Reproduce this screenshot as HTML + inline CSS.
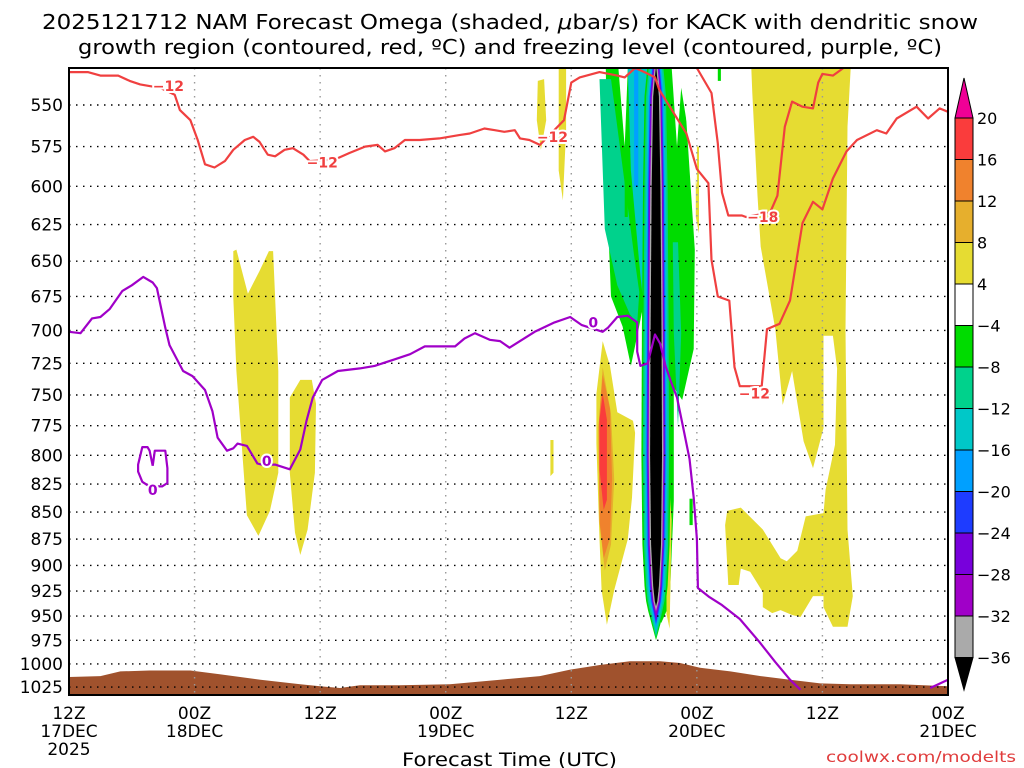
<!DOCTYPE html>
<html><head><meta charset="utf-8"><style>
html,body{margin:0;padding:0;background:#fff;}
svg{display:block;font-family:"DejaVu Sans","Liberation Sans",sans-serif;}
</style></head><body>
<svg id="chart" width="1024" height="768" viewBox="0 0 1024 768">
<text x="42" y="29" font-size="20" textLength="936" lengthAdjust="spacingAndGlyphs">2025121712 NAM Forecast Omega (shaded, <tspan font-style="italic">μ</tspan>bar/s) for KACK with dendritic snow</text>
<text x="78" y="54" font-size="20" textLength="864" lengthAdjust="spacingAndGlyphs">growth region (contoured, red, ºC) and freezing level (contoured, purple, ºC)</text>
<g id="shade"></g>
<g id="grid"></g>
<g id="lines"></g>
<g id="axes"></g>
<g id="cbar"></g>
<text x="402" y="766" font-size="19" textLength="215" lengthAdjust="spacingAndGlyphs">Forecast Time (UTC)</text>
<text x="826" y="762" font-size="15" fill="#e03c3c" textLength="190" lengthAdjust="spacingAndGlyphs">coolwx.com/modelts</text>
</svg>
<script>
const pressureTicks=[550,575,600,625,650,675,700,725,750,775,800,825,850,875,900,925,950,975,1000,1025];
const timeTicks=[0,12,24,36,48,60,72,84];
const timeLabels1=["12Z","00Z","12Z","00Z","12Z","00Z","12Z","00Z"];
const timeLabels2=["17DEC","18DEC","","19DEC","","20DEC","","21DEC"];
const cbarLevels=["20","16","12","8","4","-4","-8","-12","-16","-20","-24","-28","-32","-36"];
const cbarColors=["#fa3c3c","#f0822d","#e6af2d","#e6dc32","#ffffff","#00dc00","#00d28c","#00c8c8","#00a0ff","#1e3cff","#7800dc","#a000c8","#aaaaaa"];
// surface pressure (hours, hPa)
const sfcH=[0,3,4.9,7.7,11.6,14.4,18.3,22.1,24,25.9,27.8,31.6,36.4,41.2,45,47.9,50.8,53.6,56.5,58.4,60.3,63.2,66.1,68.9,71.8,74.7,79.4,84];
const sfcP=[1014,1013,1008,1007,1007,1011,1017,1022,1024,1026,1023,1023,1022,1017,1013,1006,1001,997,997,999,1004,1008,1013,1017,1021,1022,1022,1024];
// yellow (4-8) regions
const yelA_H=[15.7,16,17.1,18.2,19.1,19.5,20,20,19.2,18.1,17,16.5,16,15.7];
const yelA_P=[643,642,673,657,643,643,731,815,849,872,853,791,731,676];
const yelB_H=[21.1,22.1,23.2,23.6,23.5,22.8,22.1,21.6,21.1];
const yelB_P=[752,738,738,757,815,866,890,869,815];
const yelC_H=[44.8,45.4,45.6,45.1,44.7];
const yelC_P=[536,535,559,577,559];
const yelD_H=[46.8,47.5,47.5,47.2,46.8];
const yelD_P=[528,528,565,609,590];
const yelE_H=[46,46.3,46.3,46];
const yelE_P=[787,787,815,818];
const yelF_H=[51,51.7,52.4,53.9,54.1,53.8,53.4,52.1,51.4,50.9,50.7,50.4,50.4];
const yelF_P=[708,727,764,771,781,837,875,924,959,924,875,790,749];
const yelG_H=[57.2,57.6,57.4,57.1,57.1];
const yelG_P=[809,857,963,948,822];
const yelH_H=[59.9,60.2,60.2,59.9];
const yelH_P=[575,575,631,620];
const yelR_H=[65.2,65.3,65.8,66.1,67.5,68.2,69.1,70.2,71.1,72.1,72.1,73,73.4,73.2,72.3,72.1,70.4,69.6,68.6,68,66.3,64.2,62.9,62.7,63,64,64.2,65.1,66.3,66.3,67.2,68,69.1,69.9,71.1,72.1,72.1,73,74.4,74.9,74.4,74.2,74.4,74.7];
const yelR_P=[528,543,606,640,699,758,731,788,811,777,704,704,729,791,830,851,854,886,896,893,866,846,849,862,919,919,903,906,926,941,947,944,949,951,930,930,941,961,961,930,866,699,563,528];
const tanH=[51,51.8,52.1,51.8,51.2,50.7,50.6];
const tanP=[728,765,821,880,905,860,776];
const orgH=[51,51.7,51.9,51.7,51.1,50.7,50.6];
const orgP=[734,761,821,874,893,858,776];
const redH=[51,51.4,51.4,51.1,50.7,50.7];
const redP=[749,770,839,848,812,770];
// negative omega (green/teal) regions
const grnH=[51.3,51.5,51.8,52.9,53.7,54.4,55,55.5,55.3,55.7,56.6,57.4,57.8,57.8,58.6,59.7,59.8,58.8,57.8];
const grnP=[528,621,675,697,727,700,677,714,840,945,957,938,840,744,754,714,642,541,528];
const tealH=[50.7,51.8,53.1,54.0,54.5,54.3,53.6,52.4,51.2];
const tealP=[535,535,598,646,672,695,688,667,628];
const wedgeH=[52.5,53.4,53.3,53.1];
const wedgeP=[528,528,545,575];
const wedge2H=[57.6,60,60,58.5,58.1];
const wedge2P=[528,528,600,540,575];
const teal2H=[57.7,58.2,58.5,58.2,57.8];
const teal2P=[637,637,702,776,702];
const grnInH=[53.1,53.4,53.4,53.1];
const grnInP=[528,528,620,620];
const cyanH=[53.4,55.6,55.6,54.6,53.7];
const cyanP=[528,528,730,660,590];
const blueH=[54.0,54.4,54.4,54.0];
const blueP=[528,528,600,600];
const smallGrnH=[59.3,59.6,59.6,59.3];
const smallGrnP=[838,838,862,862];
const topGrnH=[62,62.3,62.3,62];
const topGrnP=[528,528,536,536];
// central strong-ascent column: profile and shading levels
const colCenter=56.1;
const colP=[528,545,600,700,800,880,920,935,945];
const colHalf=[0.1,0.35,0.5,0.6,0.65,0.55,0.35,0.2,0];
const colPad=[0.75,0.6,0.45,0.35,0.25,0.18,0.1,0.05];
const colBottom=[975,972,968,962,958,955,950,945];
const colColors=["#00dc00","#00d28c","#00c8c8","#00a0ff","#1e3cff","#7800dc","#a000c8","#aaaaaa"];
// red -12 contour
const r12H=[0,1.8,3,4.7,5.8,6.8,7.7,8.7,10.1,10.6,11.6,12.3,13,13.9,14.9,15.7,16.8,17.6,18.2,19,19.7,20.6,21.4,22.4,23,25.4,26.8,28.3,29.5,30.2,31.1,32.1,33.5,35.4,37.3,38.3,39.7,40.7,41.6,42.6,43.1,44,45,47.3,48,48.8,50.7,52.4,53.1,54.1,55,56,56.4,59,60,61.1,61.4,62,63.1,63.6,64.1,66.2,66.7,67.9,68.9,70.1,71.1,72,73,74.3,75.3,77.2,78.1,79.1,81,82.1,83.2,84];
const r12P=[531,531,533,533,536,538,539,540,544,553,559,571,586,588,584,577,571,569,572,580,581,577,576,580,584,583,579,575,574,578,576,571,571,570,568,567,564,565,566,565,570,571,574,559,537,534,531,533,534,528,531,534,541,567,589,598,649,675,678,728,743,743,699,695,678,624,610,615,595,578,571,565,567,558,551,558,552,554];
// red -18 contour
const r18H=[60,61.4,62,62.4,63,64.3,64.7,67,67.7,68.4,69.1,70.1,71.1,71.6,72,73,74];
const r18P=[528,543,573,604,619,619,620,617,606,563,548,551,552,537,532,533,528];
// purple 0C contour
const f0H=[0,1.1,2.2,3,3.9,5.1,6,7.1,8,8.4,9.2,9.6,10.9,11.8,13,13.7,14.2,15.1,15.7,16.1,17,18,18.4,19.7,21.1,22.1,22.7,23.3,24.2,25.7,27.8,29.2,31.1,32.6,34,35.9,36.9,37.8,38.8,40.2,41.2,42.1,43.1,44.5,46.4,47.9,49,51,51.5,52.4,53.4,54.3,54.3,54.6,55.3,56,56.5,57,57.6,58.1,58.7,59.3,59.7,60,60.1,61.2,62.4,64.1,66,67.5,68.9,69.9];
const f0P=[701,702,691,690,684,671,667,661,665,669,698,711,731,735,746,763,785,796,794,790,792,807,808,808,812,795,771,752,738,731,729,727,722,718,712,712,712,706,702,707,708,713,708,701,694,690,696,701,698,690,689,694,716,727,725,703,710,727,741,752,777,803,837,875,922,931,939,953,977,998,1017,1028];
const f0bH=[82.3,84];
const f0bP=[1026,1017];
const loopH=[8,7.7,7.5,7,6.6,6.6,7,7.5,8.5,8.9,9.4,9.4,9.2,8.7,8.2,8];
const loopP=[809,796,793,793,808,814,823,826,827,827,824,811,796,796,796,809];
const contourLabelH=[9.5,24.2,46.2,65.5,66.3,18.9,50.1,8];
const contourLabelP=[539,585,569,749,620,805,694,830];
const contourLabelText=["-12","-12","-12","-12","-18","0","0","0"];
const contourLabelColor=["#f04040","#f04040","#f04040","#f04040","#f04040","#a000c8","#a000c8","#a000c8"];

const NS="http://www.w3.org/2000/svg";
const L=69,R=948,T=68,B=695;
const X=h=>L+h*(R-L)/84;
const Y=p=>Math.max(T,105+935*Math.log(p/550));
function mk(tag,parent,attrs){const e=document.createElementNS(NS,tag);for(const k in attrs)e.setAttribute(k,attrs[k]);parent.appendChild(e);return e;}
function pts(H,P){return H.map((h,i)=>X(h).toFixed(1)+","+Y(P[i]).toFixed(1)).join(" ");}
const shade=document.getElementById("shade");
function poly(H,P,fill,name){const e=mk("polygon",shade,{points:pts(H,P),fill:fill});

return e;}
poly(yelA_H,yelA_P,"#e6dc32","omega-region-a");
poly(yelB_H,yelB_P,"#e6dc32","omega-region-b");
poly(yelC_H,yelC_P,"#e6dc32","omega-region-c");
poly(yelD_H,yelD_P,"#e6dc32","omega-region-d");
poly(yelE_H,yelE_P,"#e6dc32","omega-region-e");
poly(yelR_H,yelR_P,"#e6dc32","omega-region-right");
poly(yelH_H,yelH_P,"#e6dc32","omega-region-h");
poly(grnH,grnP,"#00dc00","omega-green-region");
poly(tealH,tealP,"#00d28c","omega-teal-region");
poly(grnInH,grnInP,"#00dc00","omega-green-inner");
poly(wedgeH,wedgeP,"#ffffff","omega-gap");
poly(wedge2H,wedge2P,"#ffffff","omega-gap-right");
poly(teal2H,teal2P,"#00d28c","omega-teal-region-2");
poly(cyanH,cyanP,"#00c8c8","omega-cyan-region");
poly(blueH,blueP,"#00a0ff","omega-blue-region");
poly(smallGrnH,smallGrnP,"#00dc00","omega-small-green");
poly(topGrnH,topGrnP,"#00dc00","omega-top-green");
poly(yelF_H,yelF_P,"#e6dc32","omega-region-f");
poly(tanH,tanP,"#e6af2d","omega-tan-region");
poly(orgH,orgP,"#f0822d","omega-orange-region");
poly(redH,redP,"#fa3c3c","omega-red-region");
poly(yelG_H,yelG_P,"#e6dc32","omega-region-g");
// central column
const colFill=colColors.concat(["#000000"]);
const colPadAll=colPad.concat([-0.08]);
const colBotAll=colBottom.concat([940]);
for(let k=0;k<colFill.length;k++){
  const H=[],P=[];
  for(let i=0;i<colP.length;i++){if(colP[i]<colBotAll[k]){H.push(colCenter-Math.max(0.02,colHalf[i]+colPadAll[k]));P.push(colP[i]);}}
  H.push(colCenter);P.push(colBotAll[k]);
  for(let i=colP.length-1;i>=0;i--){if(colP[i]<colBotAll[k]){H.push(colCenter+Math.max(0.02,colHalf[i]+colPadAll[k]));P.push(colP[i]);}}
  poly(H,P,colFill[k],"omega-column-level-"+k);
}
// ground
{const H=[0].concat(sfcH,[84]);const P=[1040].concat(sfcP,[1040]);
const g=mk("polygon",shade,{points:H.map((h,i)=>X(h).toFixed(1)+","+Math.min(B,Y(P[i])).toFixed(1)).join(" "),fill:"#a0522d"});

}
// grid
const grid=document.getElementById("grid");
pressureTicks.forEach(p=>{const e=mk("line",grid,{x1:L,x2:R,y1:Y(p),y2:Y(p),stroke:"#000","stroke-width":1.4,"stroke-dasharray":"1.5 5.5"});

});
timeTicks.slice(1,-1).forEach(h=>{const e=mk("line",grid,{x1:X(h),x2:X(h),y1:T,y2:B,stroke:"#999","stroke-width":1.4,"stroke-dasharray":"1.5 5.5"});

});
// contours
const lines=document.getElementById("lines");
function line(H,P,col,name){const e=mk("polyline",lines,{points:pts(H,P),fill:"none",stroke:col,"stroke-width":2.2,"stroke-linejoin":"round"});

}
line(r12H,r12P,"#f04040","contour-minus12");
line(r18H,r18P,"#f04040","contour-minus18");
line(f0H,f0P,"#a000c8","freezing-level");
line(f0bH,f0bP,"#a000c8","freezing-level-surface");
line(loopH,loopP,"#a000c8","freezing-level-loop");
contourLabelText.forEach((t,i)=>{const e=mk("text",lines,{x:X(contourLabelH[i]),y:Y(contourLabelP[i])+5,"font-size":14,"font-weight":"bold","text-anchor":"middle",fill:contourLabelColor[i],stroke:"#fff","stroke-width":4,"paint-order":"stroke"});
e.textContent=t.replace("-","\u2212");

});
// axes
const ax=document.getElementById("axes");
mk("rect",ax,{x:L,y:T,width:R-L,height:B-T,fill:"none",stroke:"#000","stroke-width":2});
pressureTicks.forEach(p=>{const e=mk("text",ax,{x:63,y:Y(p)+6,"font-size":17,"text-anchor":"end"});e.textContent=p;

});
timeTicks.forEach((h,i)=>{const x=X(h);
const a=mk("text",ax,{x:x,y:719,"font-size":17,"text-anchor":"middle"});a.textContent=timeLabels1[i];


const b=mk("text",ax,{x:x,y:737,"font-size":17,"text-anchor":"middle"});b.textContent=timeLabels2[i];

});
{const y=mk("text",ax,{x:69,y:755,"font-size":17,"text-anchor":"middle"});y.textContent="2025";

}
// colorbar
const cb=document.getElementById("cbar");
const cx=955,cw=18,ct=118,ch=41.5;
mk("polygon",cb,{points:`${cx},${ct} ${cx+cw},${ct} ${cx+cw/2},78`,fill:"#f00096",stroke:"#000","stroke-width":1});
cbarColors.forEach((c,i)=>{const e=mk("rect",cb,{x:cx,y:ct+i*ch,width:cw,height:ch,fill:c,stroke:"#000","stroke-width":1});

});
const cbEnd=ct+cbarColors.length*ch;
mk("polygon",cb,{points:`${cx},${cbEnd} ${cx+cw},${cbEnd} ${cx+cw/2},690`,fill:"#000",stroke:"#000","stroke-width":1});
cbarLevels.forEach((t,i)=>{const e=mk("text",cb,{x:977,y:ct+i*ch+6,"font-size":16});e.textContent=t.replace("-","\u2212");

});
</script>
</body></html>
